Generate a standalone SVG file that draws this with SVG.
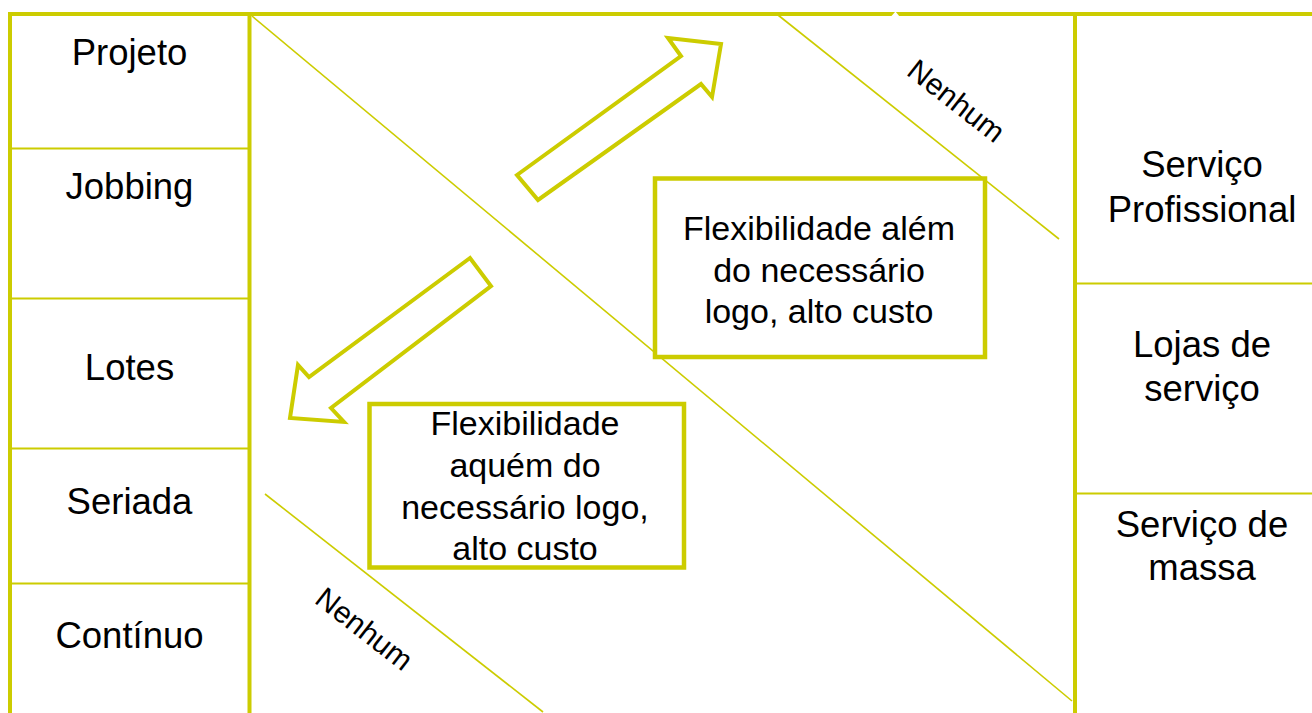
<svg xmlns="http://www.w3.org/2000/svg" width="1312" height="713" viewBox="0 0 1312 713">
<style>
.frame{stroke:#cccc00;stroke-width:4;fill:none}
.thin{stroke:#cccc00;stroke-width:2;fill:none}
.diag{stroke:#cccc00;stroke-width:1.6;fill:none}
.box{stroke:#cccc00;stroke-width:4.5;fill:#ffffff}
.arrow{stroke:#cccc00;stroke-width:4;fill:#ffffff;stroke-linejoin:miter}
text{font-family:"Liberation Sans",Arial,sans-serif;fill:#000;text-anchor:middle}
.side{font-size:36.5px}
.inbox{font-size:34px}
.nh{font-size:30px}
</style>
<rect width="1312" height="713" fill="#ffffff"/>
<g id="frame">
<line class="frame" x1="8" y1="14" x2="1312" y2="14"/>
<line class="frame" x1="10" y1="12" x2="10" y2="713"/>
<line class="frame" x1="249.5" y1="12" x2="249.5" y2="713"/>
<line class="frame" x1="1075" y1="12" x2="1075" y2="713"/>
<line class="thin" x1="12" y1="148.5" x2="248" y2="148.5"/>
<line class="thin" x1="12" y1="298.5" x2="248" y2="298.5"/>
<line class="thin" x1="12" y1="448.5" x2="248" y2="448.5"/>
<line class="thin" x1="12" y1="583.5" x2="248" y2="583.5"/>
<line class="thin" x1="1077" y1="283.5" x2="1312" y2="283.5"/>
<line class="thin" x1="1077" y1="493.5" x2="1312" y2="493.5"/>
<polygon points="891,16.5 895.5,11.5 899.5,16.5" fill="#ffffff"/>
</g>
<g id="connectors">
<line class="diag" x1="252" y1="16" x2="1072" y2="701"/>
<line class="diag" x1="778" y1="15" x2="1059" y2="239"/>
<line class="diag" x1="265" y1="494" x2="543" y2="712"/>
</g>
<g id="proc-projeto"><text class="side" x="129.5" y="65">Projeto</text></g>
<g id="proc-jobbing"><text class="side" x="129.5" y="199">Jobbing</text></g>
<g id="proc-lotes"><text class="side" x="129.5" y="380">Lotes</text></g>
<g id="proc-seriada"><text class="side" x="129.5" y="514">Seriada</text></g>
<g id="proc-continuo"><text class="side" x="129.5" y="648">Contínuo</text></g>
<g id="serv-profissional"><text class="side" x="1202" y="177">Serviço</text><text class="side" x="1202" y="222">Profissional</text></g>
<g id="serv-lojas"><text class="side" x="1202" y="357">Lojas de</text><text class="side" x="1202" y="401">serviço</text></g>
<g id="serv-massa"><text class="side" x="1202" y="537">Serviço de</text><text class="side" x="1202" y="580">massa</text></g>
<g id="arrow-up"><polygon class="arrow" points="517,175 681,56 668,38 721,44 712,97 701,84 538,200"/></g>
<g id="arrow-down"><polygon class="arrow" points="470,258 309,377 298,365 290,418 344,422 331,408 491,286"/></g>
<g id="box-alem">
<rect class="box" x="655" y="178.5" width="330" height="178.5"/>
<text class="inbox" x="819" y="240">Flexibilidade além</text>
<text class="inbox" x="819" y="282">do necessário</text>
<text class="inbox" x="819" y="323">logo, alto custo</text>
</g>
<g id="box-aquem">
<rect class="box" x="369.5" y="404" width="314.5" height="163.5"/>
<text class="inbox" x="525" y="435">Flexibilidade</text>
<text class="inbox" x="525" y="477">aquém do</text>
<text class="inbox" x="525" y="519">necessário logo,</text>
<text class="inbox" x="525" y="560">alto custo</text>
</g>
<g id="label-nenhum-top"><text class="nh" transform="translate(950,109) rotate(38)">Nenhum</text></g>
<g id="label-nenhum-bottom"><text class="nh" transform="translate(358,637) rotate(38)">Nenhum</text></g>
</svg>
